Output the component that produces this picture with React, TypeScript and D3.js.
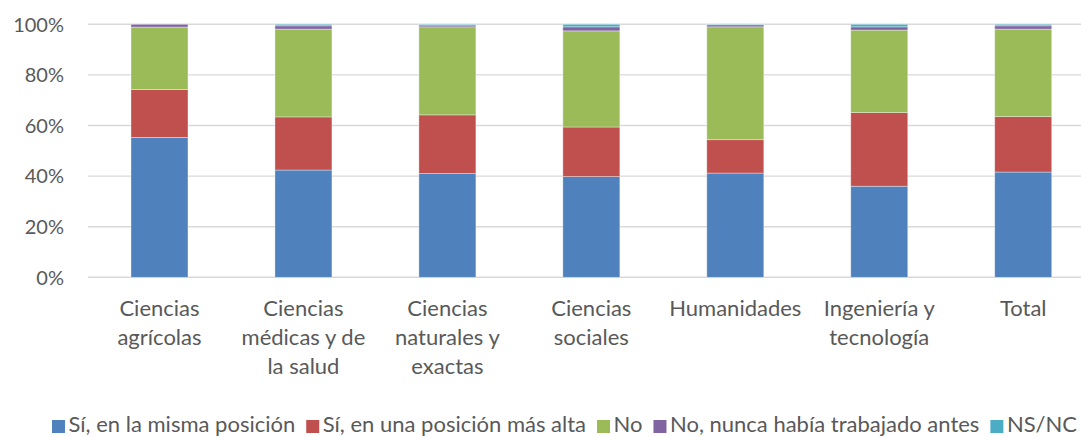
import React, { useEffect, useRef } from "react";
import * as d3 from "d3";

const categories = [
  "Ciencias agrícolas",
  "Ciencias médicas y de la salud",
  "Ciencias naturales y exactas",
  "Ciencias sociales",
  "Humanidades",
  "Ingeniería y tecnología",
  "Total",
];
const categoryLines = [
  ["Ciencias", "agrícolas"],
  ["Ciencias", "médicas y de", "la salud"],
  ["Ciencias", "naturales y", "exactas"],
  ["Ciencias", "sociales"],
  ["Humanidades"],
  ["Ingeniería y", "tecnología"],
  ["Total"],
];
const seriesNames = [
  "Sí, en la misma posición",
  "Sí, en una posición más alta",
  "No",
  "No, nunca había trabajado antes",
  "NS/NC",
];
const mismaPosicion = [55.3, 42.4, 41.0, 39.8, 41.2, 36.0, 41.6];
const posicionMasAlta = [18.9, 21.0, 23.2, 19.6, 13.2, 29.1, 21.9];
const no = [24.7, 34.7, 34.8, 38.0, 44.6, 32.6, 34.6];
const nuncaTrabajado = [1.1, 1.3, 0.7, 1.6, 0.8, 1.3, 1.3];
const nsnc = [0.0, 0.6, 0.3, 1.0, 0.2, 1.0, 0.6];
const yTicks = [0, 0.2, 0.4, 0.6, 0.8, 1.0];
const colors = ["#4F81BD", "#C0504D", "#9BBB59", "#8064A2", "#4BACC6"];

const W = 1081;
const H = 437;
const FONT = "Lato, 'Open Sans', sans-serif";
const TEXT = "#595959";
const LABEL_SIZE = 22;

export default function App() {
  const ref = useRef<SVGSVGElement>(null);

  useEffect(() => {
    const svg = d3.select(ref.current);
    svg.selectAll("*").remove();

    const x = d3.scaleBand<string>().domain(categories).range([87.5, 1095.2]).paddingInner(0.604).paddingOuter(0.302);
    const y = d3.scaleLinear().domain([0, 1]).range([277.3, 24.3]);

    // gridlines
    svg.append("g").selectAll("line").data(yTicks).join("line")
      .attr("x1", 88).attr("x2", W)
      .attr("y1", (d) => y(d)).attr("y2", (d) => y(d))
      .attr("stroke", "#D9D9D9").attr("stroke-width", 1.4);

    // y tick labels
    svg.append("g").selectAll("text").data(yTicks).join("text")
      .attr("x", 64).attr("y", (d) => y(d))
      .attr("dy", "0.36em")
      .attr("text-anchor", "end")
      .attr("font-family", FONT).attr("font-size", 20).attr("fill", TEXT)
      .text((d) => d3.format(".0%")(d));

    const rows = categories.map((c, i) => {
      const vals = [mismaPosicion[i], posicionMasAlta[i], no[i], nuncaTrabajado[i], nsnc[i]];
      const total = d3.sum(vals);
      const r: any = { cat: c };
      seriesNames.forEach((s, j) => (r[s] = vals[j] / total));
      return r;
    });
    const stacked = d3.stack().keys(seriesNames)(rows);

    svg.append("g").selectAll("g").data(stacked).join("g")
      .attr("fill", (_d, i) => colors[i])
      .selectAll("rect").data((d) => d).join("rect")
      .attr("x", (d: any) => x(d.data.cat)!)
      .attr("width", x.bandwidth())
      .attr("y", (d) => y(d[1]))
      .attr("height", (d) => Math.max(0, y(d[0]) - y(d[1])))
      .attr("stroke", "#ffffff").attr("stroke-opacity", 0.45).attr("stroke-width", 0.8);

    // category labels
    const cl = svg.append("g").selectAll("text").data(categories).join("text")
      .attr("x", (d) => x(d)! + x.bandwidth() / 2)
      .attr("y", 316)
      .attr("text-anchor", "middle")
      .attr("font-family", FONT).attr("font-size", LABEL_SIZE).attr("fill", TEXT);
    cl.each(function (_d, i) {
      const t = d3.select(this);
      categoryLines[i].forEach((line, k) => {
        t.append("tspan").attr("x", x(categories[i])! + x.bandwidth() / 2).attr("y", 316 + k * 28.8).text(line);
      });
    });

    // legend
    const lg = svg.append("g");
    let lx = 52;
    seriesNames.forEach((s, i) => {
      lg.append("rect").attr("x", lx).attr("y", 420).attr("width", 13).attr("height", 13).attr("fill", colors[i]);
      const t = lg.append("text").attr("x", lx + 16.5).attr("y", 432)
        .attr("font-family", FONT).attr("font-size", LABEL_SIZE).attr("fill", TEXT).text(s);
      const w = (t.node() as SVGTextElement).getComputedTextLength();
      lx += 16.5 + w + 11;
    });
  }, []);

  return (
    <svg ref={ref} width={W} height={H} style={{ position: "absolute", left: 0, top: 0, background: "#fff" }} />
  );
}
